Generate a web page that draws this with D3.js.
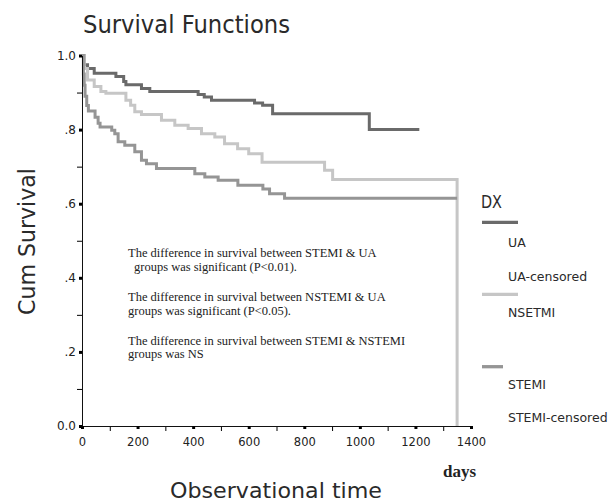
<!DOCTYPE html>
<html>
<head>
<meta charset="utf-8">
<script src="https://cdnjs.cloudflare.com/ajax/libs/d3/7.8.5/d3.min.js"></script>
<style>
  body { margin: 0; background: #fff; }
  #wrapper svg { display: block; }
  .tick text { font-family: "DejaVu Sans", sans-serif; fill: #222; }
  .domain { stroke: #111; }
</style>
</head>
<body>
<div id="wrapper"></div>
<script>
// step points: day of each drop, survival right after it
const uaDays = [0, 8, 20, 44, 122, 150, 158, 214, 244, 418, 440, 466, 621, 650, 686, 1034]
const uaSurvival = [1, 0.975, 0.965, 0.952, 0.943, 0.93, 0.921, 0.911, 0.903, 0.895, 0.888, 0.879, 0.872, 0.866, 0.843, 0.80]
const uaEnd = 1214

const nstemiDays = [0, 8, 20, 44, 68, 86, 158, 175, 190, 214, 286, 334, 382, 430, 478, 513, 560, 600, 648, 873, 902]
const nstemiSurvival = [1, 0.965, 0.934, 0.916, 0.903, 0.898, 0.879, 0.866, 0.848, 0.841, 0.825, 0.812, 0.803, 0.789, 0.78, 0.762, 0.748, 0.735, 0.712, 0.69, 0.665]
const nstemiEnd = 1350

const stemiDays = [0, 5, 8, 11, 17, 23, 47, 58, 65, 107, 118, 130, 154, 190, 214, 232, 268, 406, 442, 490, 561, 651, 675, 729]
const stemiSurvival = [1, 0.95, 0.92, 0.89, 0.865, 0.85, 0.833, 0.817, 0.807, 0.798, 0.789, 0.767, 0.758, 0.74, 0.717, 0.708, 0.695, 0.681, 0.672, 0.663, 0.65, 0.64, 0.627, 0.615]
const stemiEnd = 1350

const yTickValues = [0, 0.2, 0.4, 0.6, 0.8, 1]
const yTickLabels = ["0.0", ".2", ".4", ".6", ".8", "1.0"]
const yMinorTicks = [0.1, 0.3, 0.5, 0.7, 0.9]
const xTickValues = [0, 200, 400, 600, 800, 1000, 1200, 1400]
const xMinorTicks = [100, 300, 500, 700, 900, 1100, 1300]

const legendLabels = ["UA", "UA-censored", "NSETMI", "STEMI", "STEMI-censored"]
const notes = [
  "The difference in survival between STEMI & UA",
  "groups was significant (P<0.01).",
  "The difference in survival between NSTEMI & UA",
  "groups was significant (P<0.05).",
  "The difference in survival between STEMI & NSTEMI",
  "groups was NS",
]

function drawChart() {
  let dimensions = {
    width: 611,
    height: 504,
    margin: {
      top: 55.5,
      right: 140,
      bottom: 78,
      left: 82,
    },
  }
  dimensions.boundedWidth = dimensions.width - dimensions.margin.left - dimensions.margin.right
  dimensions.boundedHeight = dimensions.height - dimensions.margin.top - dimensions.margin.bottom

  const wrapper = d3.select("#wrapper")
    .append("svg")
      .attr("width", dimensions.width)
      .attr("height", dimensions.height)

  const bounds = wrapper.append("g")
    .attr("transform", `translate(${dimensions.margin.left}, ${dimensions.margin.top})`)

  // scales
  const xScale = d3.scaleLinear()
    .domain([0, 1400])
    .range([0, dimensions.boundedWidth])

  const yScale = d3.scaleLinear()
    .domain([0, 1])
    .range([dimensions.boundedHeight, 0])

  // survival curves
  const series = [
    {name: "UA", color: "#6a6a6a", points: d3.zip(uaDays, uaSurvival).concat([[uaEnd, uaSurvival[uaSurvival.length - 1]]])},
    {name: "NSTEMI", color: "#c6c6c6", points: d3.zip(nstemiDays, nstemiSurvival).concat([[nstemiEnd, nstemiSurvival[nstemiSurvival.length - 1]], [nstemiEnd, 0]])},
    {name: "STEMI", color: "#959595", points: d3.zip(stemiDays, stemiSurvival).concat([[stemiEnd, stemiSurvival[stemiSurvival.length - 1]]])},
  ]

  const lineGenerator = d3.line()
    .x(d => xScale(d[0]))
    .y(d => yScale(d[1]))
    .curve(d3.curveStepAfter)

  bounds.selectAll(".curve")
    .data(series)
    .enter().append("path")
      .attr("class", "curve")
      .attr("d", d => lineGenerator(d.points))
      .attr("fill", "none")
      .attr("stroke", d => d.color)
      .attr("stroke-width", 3)

  // axes
  const yMinor = bounds.append("g")
    .call(d3.axisLeft(yScale).tickValues(yMinorTicks).tickSize(5).tickSizeOuter(0).tickFormat(""))
  yMinor.select(".domain").remove()

  const yAxis = bounds.append("g")
    .call(d3.axisLeft(yScale)
      .tickValues(yTickValues)
      .tickFormat((d, i) => yTickLabels[i])
      .tickSize(3)
      .tickPadding(3)
      .tickSizeOuter(0))
  yAxis.selectAll(".tick line").attr("stroke-width", 3)
  yAxis.selectAll(".tick text").style("font-size", "12px")

  const xMinor = bounds.append("g")
    .attr("transform", `translate(0, ${dimensions.boundedHeight})`)
    .call(d3.axisBottom(xScale).tickValues(xMinorTicks).tickSize(5).tickSizeOuter(0).tickFormat(""))
  xMinor.select(".domain").remove()

  const xAxis = bounds.append("g")
    .attr("transform", `translate(0, ${dimensions.boundedHeight})`)
    .call(d3.axisBottom(xScale)
      .tickValues(xTickValues)
      .tickFormat(d3.format("d"))
      .tickSize(3)
      .tickPadding(9)
      .tickSizeOuter(0))
  xAxis.selectAll(".tick line").attr("stroke-width", 3)
  xAxis.selectAll(".tick text").style("font-size", "11.5px")

  // titles
  wrapper.append("text")
      .attr("x", 83)
      .attr("y", 33)
      .attr("textLength", 207)
      .attr("lengthAdjust", "spacingAndGlyphs")
      .style("font-family", "DejaVu Sans, sans-serif")
      .style("font-size", "24px")
      .style("fill", "#2a2a2a")
      .text("Survival Functions")

  wrapper.append("text")
      .attr("transform", "translate(35, 241.5) rotate(-90)")
      .attr("text-anchor", "middle")
      .attr("textLength", 147)
      .attr("lengthAdjust", "spacingAndGlyphs")
      .style("font-family", "DejaVu Sans, sans-serif")
      .style("font-size", "23px")
      .style("fill", "#2a2a2a")
      .text("Cum Survival")

  wrapper.append("text")
      .attr("x", 276)
      .attr("y", 498)
      .attr("text-anchor", "middle")
      .attr("textLength", 212)
      .attr("lengthAdjust", "spacingAndGlyphs")
      .style("font-family", "DejaVu Sans, sans-serif")
      .style("font-size", "22px")
      .style("fill", "#2a2a2a")
      .text("Observational time")

  wrapper.append("text")
      .attr("x", 443)
      .attr("y", 477)
      .style("font-family", "Liberation Serif, serif")
      .style("font-weight", "bold")
      .style("font-size", "17px")
      .style("fill", "#222")
      .text("days")

  // notes inside the plot
  const noteX = [128, 134, 128, 128, 128, 128]
  const noteY = [257, 270.5, 301, 314.5, 344.5, 358]
  wrapper.append("g")
    .selectAll("text")
    .data(notes)
    .enter().append("text")
      .attr("x", (d, i) => noteX[i])
      .attr("y", (d, i) => noteY[i])
      .style("font-family", "Liberation Serif, serif")
      .style("font-size", "12.5px")
      .style("fill", "#222")
      .text(d => d)

  // legend
  const legend = wrapper.append("g")
  legend.append("text")
      .attr("x", 481)
      .attr("y", 208)
      .attr("textLength", 21)
      .attr("lengthAdjust", "spacingAndGlyphs")
      .style("font-family", "DejaVu Sans, sans-serif")
      .style("font-size", "17px")
      .style("fill", "#2a2a2a")
      .text("DX")

  const swatchY = [222.3, 294.3, 366.7]
  const swatchW = [36, 36, 21]
  legend.selectAll(".swatch")
    .data(series)
    .enter().append("line")
      .attr("class", "swatch")
      .attr("x1", 482)
      .attr("x2", (d, i) => 482 + swatchW[i])
      .attr("y1", (d, i) => swatchY[i])
      .attr("y2", (d, i) => swatchY[i])
      .attr("stroke", d => d.color)
      .attr("stroke-width", 3.3)

  const labelY = [246.5, 281, 317, 388.5, 422]
  legend.selectAll(".legend-label")
    .data(legendLabels)
    .enter().append("text")
      .attr("class", "legend-label")
      .attr("x", 508)
      .attr("y", (d, i) => labelY[i])
      .style("font-family", "DejaVu Sans, sans-serif")
      .style("font-size", "12.5px")
      .style("fill", "#2a2a2a")
      .text(d => d)
}
drawChart()
</script>
</body>
</html>
